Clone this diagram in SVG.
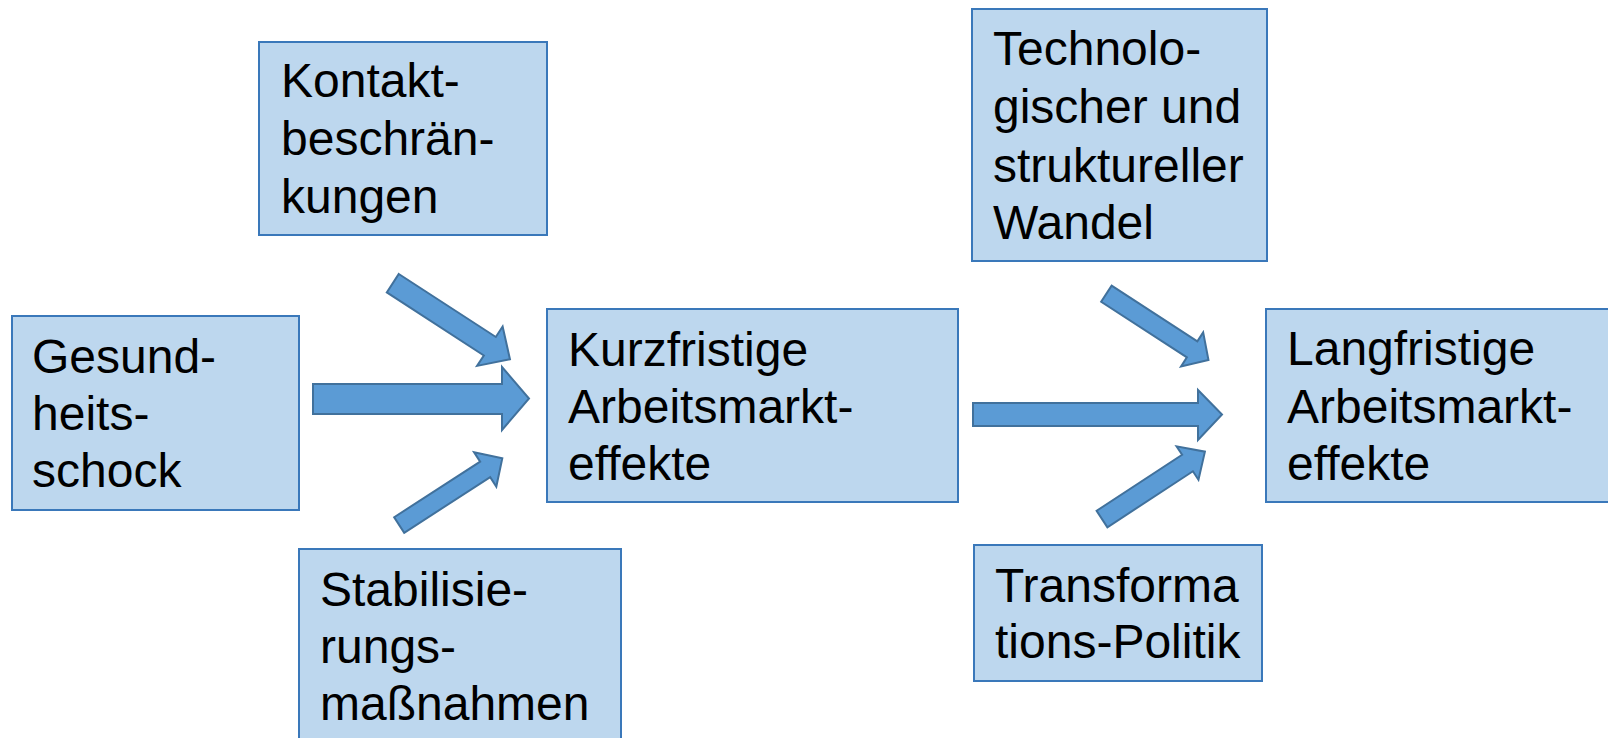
<svg xmlns="http://www.w3.org/2000/svg" width="1608" height="738" viewBox="0 0 1608 738">
<style>
.box{fill:#BDD7EE;stroke:#3A78BA;stroke-width:2}
.arr{fill:#5B9BD5;stroke:#41719C;stroke-width:2;stroke-linejoin:miter}
text{font-family:"Liberation Sans",Arial,sans-serif;font-size:48px;fill:#000}
</style>
<rect width="1608" height="738" fill="#fff"/>
<g id="connectors">
<polygon class="arr" points="313,384 502,384 502,367 529,398.5 502,430 502,414 313,414"/>
<polygon class="arr" points="973,403 1198,403 1198,390 1222,414.5 1198,440 1198,426 973,426"/>
<polygon class="arr" transform="translate(392.8,283.2) rotate(33)" points="0,-11 115.7,-11 115.7,-23.5 139.7,0 115.7,23.5 115.7,11 0,11"/>
<polygon class="arr" transform="translate(399.2,525) rotate(-32.9)" points="0,-9.25 102.4,-9.25 102.4,-20.5 122.8,0 102.4,20.5 102.4,9.25 0,9.25"/>
<polygon class="arr" transform="translate(1106.4,293.7) rotate(33)" points="0,-9.6 102.2,-9.6 102.2,-20.3 121.7,0 102.2,20.3 102.2,9.6 0,9.6"/>
<polygon class="arr" transform="translate(1102,519) rotate(-33.2)" points="0,-9.85 102.2,-9.85 102.2,-20 123,0 102.2,20 102.2,9.85 0,9.85"/>
</g>
<g id="gesundheitsschock">
<rect class="box" x="12" y="316" width="287" height="194"/>
<text x="32" y="373">Gesund-</text>
<text x="32" y="430">heits-</text>
<text x="32" y="487">schock</text>
</g>
<g id="kontaktbeschraenkungen">
<rect class="box" x="259" y="42" width="288" height="193"/>
<text x="281" y="97">Kontakt-</text>
<text x="281" y="155">beschrän-</text>
<text x="281" y="213">kungen</text>
</g>
<g id="stabilisierungsmassnahmen">
<rect class="box" x="299" y="549" width="322" height="200"/>
<text x="320" y="606">Stabilisie-</text>
<text x="320" y="663">rungs-</text>
<text x="320" y="720">maßnahmen</text>
</g>
<g id="kurzfristige">
<rect class="box" x="547" y="309" width="411" height="193"/>
<text x="568" y="366">Kurzfristige</text>
<text x="568" y="423">Arbeitsmarkt-</text>
<text x="568" y="480">effekte</text>
</g>
<g id="technologischer-wandel">
<rect class="box" x="972" y="9" width="295" height="252"/>
<text x="993" y="65">Technolo-</text>
<text x="993" y="123">gischer und</text>
<text x="993" y="182">struktureller</text>
<text x="993" y="239">Wandel</text>
</g>
<g id="transformationspolitik">
<rect class="box" x="974" y="545" width="288" height="136"/>
<text x="995" y="602">Transforma</text>
<text x="995" y="658">tions-Politik</text>
</g>
<g id="langfristige">
<rect class="box" x="1266" y="309" width="350" height="193"/>
<text x="1287" y="365">Langfristige</text>
<text x="1287" y="423">Arbeitsmarkt-</text>
<text x="1287" y="480">effekte</text>
</g>
</svg>
